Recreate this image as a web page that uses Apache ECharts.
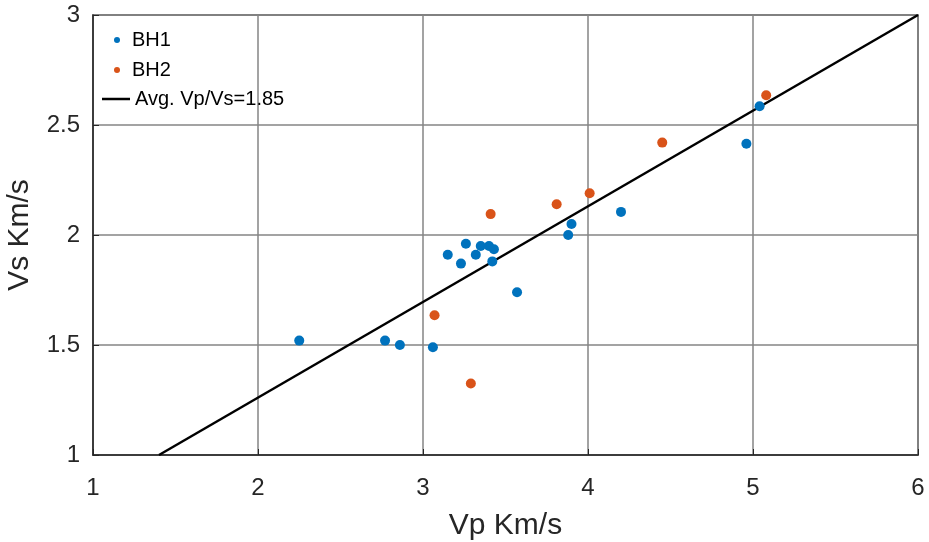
<!DOCTYPE html>
<html>
<head>
<meta charset="utf-8">
<title>Vp vs Vs</title>
<script src="https://cdn.jsdelivr.net/npm/echarts@6/dist/echarts.min.js"></script>
<style>
  html, body { margin: 0; padding: 0; background: #fff; }
  #chart { width: 929px; height: 542px; }
</style>
</head>
<body>
<div id="chart"></div>
<script>
// BH1 points: Vp, Vs (km/s)
const bh1Vp = [2.25, 2.77, 2.86, 3.06, 3.15, 3.23, 3.26, 3.32, 3.35, 3.40, 3.43, 3.42, 3.57, 3.88, 3.90, 4.20, 4.96, 5.04];
const bh1Vs = [1.52, 1.52, 1.50, 1.49, 1.91, 1.87, 1.96, 1.91, 1.95, 1.95, 1.935, 1.88, 1.74, 2.00, 2.05, 2.105, 2.415, 2.585];

// BH2 points
const bh2Vp = [3.07, 3.29, 3.41, 3.81, 4.01, 4.45, 5.08];
const bh2Vs = [1.635, 1.325, 2.095, 2.14, 2.19, 2.42, 2.635];

// fitted line end points
const lineVp = [1.4, 6.0];
const lineVs = [1.0, 3.0];

const xTicks = [1, 2, 3, 4, 5, 6];
const yTicks = [1, 1.5, 2, 2.5, 3];

const BLUE = '#0072BD';
const ORANGE = '#D95319';
const FONT = 'Liberation Sans, Arial, sans-serif';

function pairs(xs, ys) {
  return xs.map((x, i) => [x, ys[i]]);
}

const chart = echarts.init(document.getElementById('chart'));

chart.setOption({
  animation: false,
  backgroundColor: '#fff',
  textStyle: { fontFamily: FONT },
  grid: {
    left: 93, right: 11, top: 15, bottom: 87,
    outerBoundsMode: 'none', containLabel: false,
    show: true, borderColor: '#4d4d4d', borderWidth: 1.5
  },
  legend: [
    {
      data: [{ name: 'BH1', icon: 'circle' }, { name: 'BH2', icon: 'circle' }],
      orient: 'vertical', left: 109, top: 25,
      itemWidth: 20, itemHeight: 6, itemGap: 10,
      textStyle: { fontSize: 20, color: '#000', fontFamily: FONT }
    },
    {
      data: [{ name: 'Avg. Vp/Vs=1.85', icon: 'rect' }],
      orient: 'vertical', left: 97, top: 84,
      itemWidth: 28, itemHeight: 2.5,
      itemStyle: { color: '#000' },
      textStyle: { fontSize: 20, color: '#000', fontFamily: FONT }
    }
  ],
  xAxis: {
    type: 'value', min: xTicks[0], max: xTicks[xTicks.length - 1], interval: 1,
    name: 'Vp Km/s', nameLocation: 'middle', nameGap: 56,
    nameTextStyle: { fontSize: 30, color: '#262626', fontFamily: FONT },
    axisLine: { show: true, lineStyle: { color: '#262626', width: 1.5 } },
    axisTick: { show: true, inside: true, length: 6, lineStyle: { color: '#262626' } },
    axisLabel: { fontSize: 24, color: '#262626', margin: 21 },
    splitLine: { show: true, lineStyle: { color: '#858585', width: 1.5 } }
  },
  yAxis: {
    type: 'value', min: yTicks[0], max: yTicks[yTicks.length - 1], interval: 0.5,
    name: 'Vs Km/s', nameLocation: 'middle', nameGap: 58,
    nameTextStyle: { fontSize: 30, color: '#262626', fontFamily: FONT },
    axisLine: { show: true, lineStyle: { color: '#262626', width: 1.5 } },
    axisTick: { show: true, inside: true, length: 6, lineStyle: { color: '#262626' } },
    axisLabel: { fontSize: 24, color: '#262626', margin: 13 },
    splitLine: { show: true, lineStyle: { color: '#858585', width: 1.5 } }
  },
  series: [
    {
      name: 'BH1', type: 'scatter', data: pairs(bh1Vp, bh1Vs),
      symbolSize: 10, itemStyle: { color: BLUE, opacity: 1 }, z: 3
    },
    {
      name: 'BH2', type: 'scatter', data: pairs(bh2Vp, bh2Vs),
      symbolSize: 10, itemStyle: { color: ORANGE, opacity: 1 }, z: 3
    },
    {
      name: 'Avg. Vp/Vs=1.85', type: 'line', data: pairs(lineVp, lineVs),
      showSymbol: false, symbol: 'none',
      lineStyle: { color: '#000', width: 2.5 }, itemStyle: { color: '#000' }, z: 2
    }
  ]
});
</script>
</body>
</html>
